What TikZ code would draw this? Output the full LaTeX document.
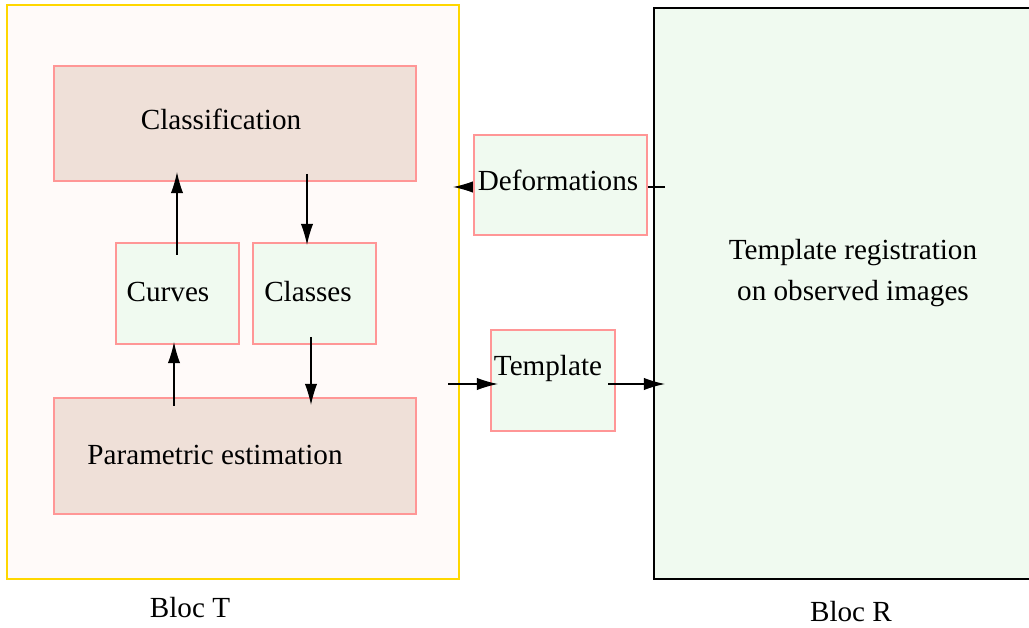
\documentclass[tikz,border=0pt]{standalone}
\usepackage{fontspec}
\setmainfont{Liberation Serif}
\usetikzlibrary{arrows.meta}
\definecolor{snowfill}{RGB}{255,250,249}
\definecolor{yellowline}{RGB}{255,215,0}
\definecolor{brownfill}{RGB}{239,224,216}
\definecolor{greenfill}{RGB}{240,250,240}
\definecolor{redline}{RGB}{255,150,150}
\tikzset{
  px/.style={x=0.02cm,y=-0.02cm},
  blk/.style={draw=redline,line width=0.7pt,inner sep=0pt,outer sep=0pt},
  brownbox/.style={blk,fill=brownfill},
  greenbox/.style={blk,fill=greenfill},
  lbl/.style={inner sep=0pt,font=\fontsize{16.6}{20}\selectfont},
  arr/.style={line width=0.7pt,-{Latex[length=12pt,width=7pt]}},
}
\begin{document}
\begin{tikzpicture}[px]
\useasboundingbox (0,0) rectangle (1029,628);
\clip (0,0) rectangle (1029,628);
% Bloc T
\node[draw=yellowline,fill=snowfill,line width=0.6pt,inner sep=0pt,minimum width=452*0.02cm,minimum height=574*0.02cm] (blocT) at (233,292) {};
% Bloc R
\node[draw=black,fill=greenfill,line width=0.7pt,inner sep=0pt,minimum width=380*0.02cm,minimum height=571*0.02cm] (blocR) at (844,293.5) {};
% inner boxes
\node[brownbox,minimum width=362*0.02cm,minimum height=115*0.02cm] (classif) at (235,123.5) {};
\node[brownbox,minimum width=362*0.02cm,minimum height=116*0.02cm] (param) at (235,456) {};
\node[greenbox,minimum width=123*0.02cm,minimum height=101*0.02cm] (curves) at (177.5,293.5) {};
\node[greenbox,minimum width=123*0.02cm,minimum height=101*0.02cm] (classes) at (314.5,293.5) {};
% labels
\node[lbl] (tclassif) at (221,119) {Classification};
\node[lbl] (tparam) at (215,455) {Parametric estimation};
\node[lbl] (tcurves) at (168,292) {Curves};
\node[lbl] (tclasses) at (308,292) {Classes};
\node[lbl,align=center] (tregis) at (853,273) {Template registration\\[3.5pt]on observed images};
\node[lbl] (tbT) at (190,608) {Bloc T};
\node[lbl] (tbR) at (851,612) {Bloc R};
% inner arrows
\coordinate (c1) at (177,255); \coordinate (c2) at (177,172);
\coordinate (k1) at (307,174); \coordinate (k2) at (307,245);
\coordinate (p1) at (174,406); \coordinate (p2) at (174,342);
\coordinate (q1) at (311,337); \coordinate (q2) at (311,405);
\draw[arr] (c1) -- (c2);
\draw[arr] (k1) -- (k2);
\draw[arr] (p1) -- (p2);
\draw[arr] (q1) -- (q2);
% deformations arrow (behind box)
\coordinate (d1) at (665,187); \coordinate (d2) at (453,187);
\draw[arr] (d1) -- (d2);
\node[greenbox,minimum width=173*0.02cm,minimum height=100*0.02cm] (deform) at (560.5,185) {};
\node[lbl] (tdeform) at (558,180) {Deformations};
% template box and arrows
\node[greenbox,minimum width=124*0.02cm,minimum height=101*0.02cm] (templ) at (553,380.5) {};
\node[lbl] (ttempl) at (548,368) {Template};
\coordinate (t1) at (448,384); \coordinate (t2) at (498,384);
\coordinate (t3) at (608,384); \coordinate (t4) at (665,384);
\draw[arr] (t1) -- (t2);
\draw[arr] (t3) -- (t4);
\end{tikzpicture}
\end{document}
